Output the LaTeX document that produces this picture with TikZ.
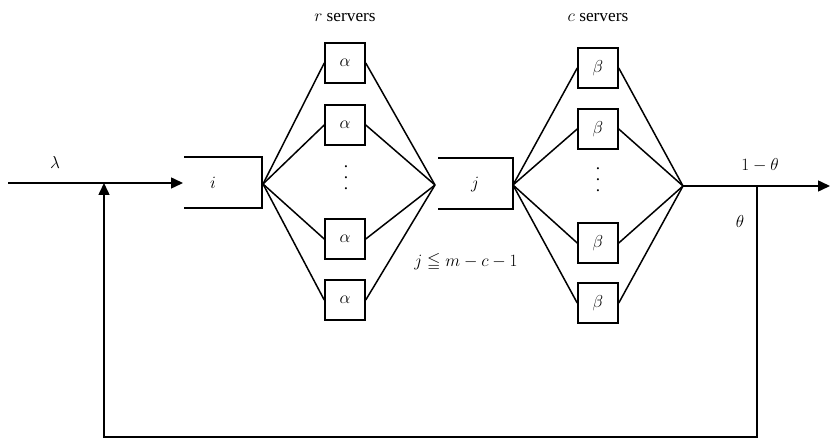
\documentclass[tikz,border=0pt]{standalone}
\usepackage{amssymb}
\usepackage{fontspec}
\setmainfont{Liberation Serif}
\usetikzlibrary{arrows.meta}
\newcommand\tallvdots{\vbox{\baselineskip=11pt\lineskiplimit=0pt\hbox{.}\hbox{.}\hbox{.}}}
\begin{document}
\begin{tikzpicture}[x=1pt,y=-1pt,line width=1.5pt,
  srv/.style={draw,minimum width=40pt,minimum height=40pt,inner sep=0pt,font=\fontsize{17.28}{20}\selectfont},
  lbl/.style={font=\fontsize{17.28}{20}\selectfont,inner sep=0pt},
  arr/.style={-{Triangle[length=12pt,width=11pt]}}]
\useasboundingbox (0,0) rectangle (831,446);
% key points
\coordinate (src) at (8,183);
\coordinate (qiin) at (183,183);
\coordinate (fbjoin) at (104,183);
\coordinate (qiout) at (263,184);
\coordinate (fa) at (435,185);
\coordinate (qjout) at (513,185);
\coordinate (fb) at (683,186);
\coordinate (split) at (757,186);
\coordinate (sink) at (830,186);
\coordinate (c1) at (757,437);
\coordinate (c2) at (104,437);
% queues
\draw (184,157) -- (262,157) -- (262,208) -- (184,208);
\draw (438,158) -- (513,158) -- (513,209) -- (438,209);
\node[lbl] (li) at (213,183) {$i$};
\node[lbl] (lj) at (475,185) {$j$};
% alpha servers
\node[srv] (a1) at (345,63) {$\alpha$};
\node[srv] (a2) at (345,125) {$\alpha$};
\node[srv] (a3) at (345,239) {$\alpha$};
\node[srv] (a4) at (345,300) {$\alpha$};
\node[lbl] (ad) at (346,178) {\tallvdots};
% beta servers
\node[srv] (b1) at (598,68) {$\beta$};
\node[srv] (b2) at (598,129) {$\beta$};
\node[srv] (b3) at (598,243) {$\beta$};
\node[srv] (b4) at (598,303) {$\beta$};
\node[lbl] (bd) at (598,180) {\tallvdots};
% fans
\foreach \n in {a1,a2,a3,a4}{\draw (qiout) -- (\n.west); \draw (\n.east) -- (fa);}
\foreach \n in {b1,b2,b3,b4}{\draw (qjout) -- (\n.west); \draw (\n.east) -- (fb);}
% flow lines
\draw[arr] (src) -- (qiin);
\draw[arr] (fb) -- (sink);
\draw[arr] (split) -- (c1) -- (c2) -- (fbjoin);
% labels
\node[lbl] (llam) at (55,163) {$\lambda$};
\node[lbl] (lr) at (345,18) {$r$ servers};
\node[lbl] (lc) at (598,18) {$c$ servers};
\node[lbl] (lcond) at (466,262) {$j\leqq m-c-1$};
\node[lbl] (lout) at (760,165) {$1-\theta$};
\node[lbl] (lth) at (740,222) {$\theta$};
\end{tikzpicture}
\end{document}
